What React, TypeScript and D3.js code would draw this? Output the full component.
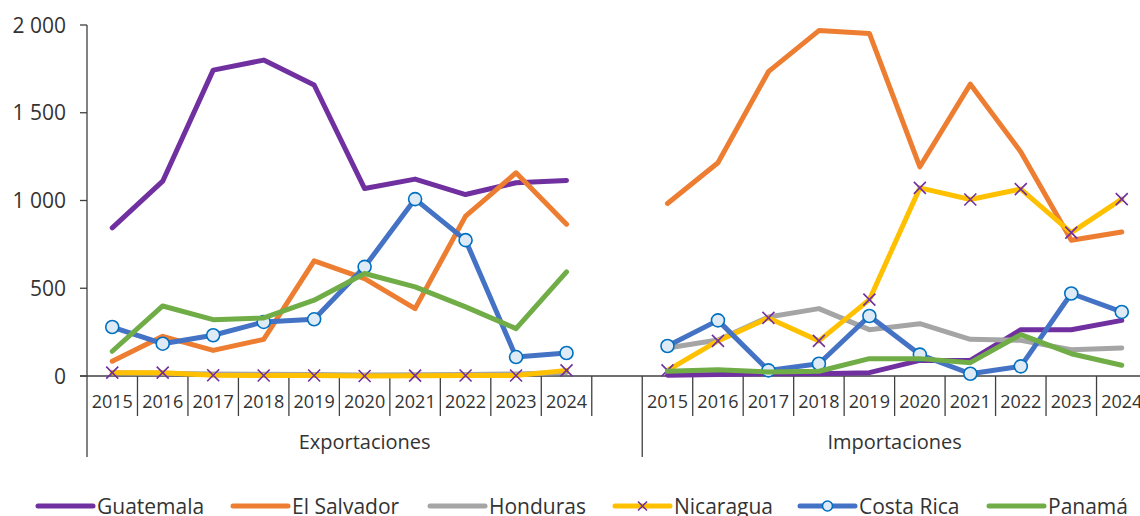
import { useMemo } from "react";
import * as d3 from "d3";

const years = ["2015", "2016", "2017", "2018", "2019", "2020", "2021", "2022", "2023", "2024"];
const groups = ["Exportaciones", "Importaciones"];
const yTicks = [0, 500, 1000, 1500, 2000];

// values (millions), exports then imports
const guatemalaExp = [844, 1110, 1743, 1800, 1658, 1068, 1122, 1034, 1101, 1114];
const guatemalaImp = [4, 8, 13, 13, 19, 89, 89, 264, 264, 317];
const elSalvadorExp = [84, 226, 146, 209, 656, 555, 384, 911, 1158, 865];
const elSalvadorImp = [983, 1215, 1734, 1968, 1952, 1192, 1663, 1277, 774, 821];
const hondurasExp = [18, 15, 12, 10, 8, 5, 7, 9, 12, 20];
const hondurasImp = [160, 205, 336, 384, 264, 298, 209, 203, 150, 160];
const nicaraguaExp = [19, 19, 4, 3, 3, 0, 2, 3, 3, 32];
const nicaraguaImp = [32, 200, 331, 200, 435, 1072, 1006, 1065, 817, 1008];
const costaRicaExp = [279, 184, 232, 308, 323, 622, 1008, 774, 108, 131];
const costaRicaImp = [171, 317, 32, 70, 342, 122, 13, 55, 470, 365];
const panamaExp = [141, 399, 321, 331, 432, 584, 508, 394, 270, 593];
const panamaImp = [27, 36, 23, 27, 99, 99, 76, 236, 127, 61];

const seriesNames = ["Guatemala", "El Salvador", "Honduras", "Nicaragua", "Costa Rica", "Panamá"];
const seriesColors = ["#7030A0", "#ED7D31", "#A5A5A5", "#FFC000", "#4472C4", "#70AD47"];
const seriesMarkers = ["none", "none", "none", "x", "circle", "none"];
const seriesExp = [guatemalaExp, elSalvadorExp, hondurasExp, nicaraguaExp, costaRicaExp, panamaExp];
const seriesImp = [guatemalaImp, elSalvadorImp, hondurasImp, nicaraguaImp, costaRicaImp, panamaImp];

const legendX = [38, 233, 430, 615, 800, 989];

const W = 1140;
const H = 516;
const FONT = "'Open Sans', sans-serif";
const AXIS = "#404040";
const TEXT = "#333333";

export default function App() {
  // one band per category; the blank slot closes the Exportaciones group
  const cats = useMemo(
    () => [...years.map((y) => "E" + y), "E-gap", ...years.map((y) => "I" + y)],
    []
  );
  const x = d3.scaleBand<string>().domain(cats).range([87, 1147]).paddingInner(0).paddingOuter(0);
  const y = d3.scaleLinear().domain([0, 2000]).range([376, 25]);
  const fmt = d3.formatLocale({ thousands: " ", grouping: [3], decimal: ",", currency: ["", ""] }).format(",");

  const line = d3
    .line<[string, number]>()
    .x((d) => (x(d[0]) ?? 0) + x.bandwidth() / 2)
    .y((d) => y(d[1]));

  const bw = x.bandwidth();
  const boundaries = d3.range(cats.length + 1).map((i) => 87 + i * bw);

  const groupSpans = [
    [x("E2015") ?? 0, (x("E-gap") ?? 0) + bw],
    [x("I2015") ?? 0, (x("I2024") ?? 0) + bw],
  ];

  const drawMarker = (kind: string, cx: number, cy: number, key: string, s = 6) => {
    if (kind === "x") {
      return (
        <path
          key={key}
          d={`M${cx - s},${cy - s}L${cx + s},${cy + s}M${cx - s},${cy + s}L${cx + s},${cy - s}`}
          stroke="#7030A0"
          strokeWidth={1.6}
          fill="none"
        />
      );
    }
    if (kind === "circle") {
      return <circle key={key} cx={cx} cy={cy} r={s + 0.5} fill="#DEEBF7" stroke="#0070C0" strokeWidth={1.6} />;
    }
    return null;
  };

  return (
    <svg
      width={W}
      height={H}
      style={{ position: "absolute", left: 0, top: 0, background: "#fff" }}
      fontFamily={FONT}
    >
      {/* y axis */}
      <line x1={87} x2={87} y1={y(2000)} y2={376} stroke={AXIS} strokeWidth={1.3} />
      {yTicks.map((t) => (
        <g key={t}>
          <line x1={80} x2={87} y1={y(t)} y2={y(t)} stroke={AXIS} strokeWidth={1.3} />
          <text x={66} y={y(t)} dy="0.36em" textAnchor="end" fontSize={21} fill={TEXT}>
            {fmt(t)}
          </text>
        </g>
      ))}

      {/* category axis */}
      <line x1={80} x2={W} y1={376} y2={376} stroke={AXIS} strokeWidth={1.3} />
      {boundaries.map((bx, i) => {
        const long = i === 0 || i === 11 || i === cats.length;
        return (
          <line key={i} x1={bx} x2={bx} y1={376} y2={long ? 457 : 416} stroke={AXIS} strokeWidth={1.3} />
        );
      })}
      {cats.map((c) =>
        c === "E-gap" ? null : (
          <text
            key={c}
            x={(x(c) ?? 0) + bw / 2}
            y={408}
            textAnchor="middle"
            fontSize={18}
            fill={TEXT}
          >
            {c.slice(1)}
          </text>
        )
      )}
      {groups.map((g, i) => (
        <text
          key={g}
          x={(groupSpans[i][0] + groupSpans[i][1]) / 2}
          y={449}
          textAnchor="middle"
          fontSize={20}
          fill={TEXT}
        >
          {g}
        </text>
      ))}

      {/* series */}
      {seriesNames.map((name, si) => {
        const expPts: [string, number][] = years.map((yr, i) => ["E" + yr, seriesExp[si][i]]);
        const impPts: [string, number][] = years.map((yr, i) => ["I" + yr, seriesImp[si][i]]);
        return (
          <g key={name}>
            {[expPts, impPts].map((pts, k) => (
              <path
                key={k}
                d={line(pts) ?? ""}
                fill="none"
                stroke={seriesColors[si]}
                strokeWidth={5}
                strokeLinejoin="round"
                strokeLinecap="round"
              />
            ))}
            {[...expPts, ...impPts].map((p) =>
              drawMarker(seriesMarkers[si], (x(p[0]) ?? 0) + bw / 2, y(p[1]), name + p[0])
            )}
          </g>
        );
      })}

      {/* legend */}
      {seriesNames.map((name, si) => {
        const lx = legendX[si];
        const ly = 506;
        return (
          <g key={"lg" + name}>
            <line
              x1={lx}
              x2={lx + 55}
              y1={ly}
              y2={ly}
              stroke={seriesColors[si]}
              strokeWidth={5}
              strokeLinecap="round"
            />
            {drawMarker(seriesMarkers[si], lx + 27.5, ly, "lm" + name, 4.5)}
            <text x={lx + 59} y={514} fontSize={21} fill={TEXT}>
              {name}
            </text>
          </g>
        );
      })}
    </svg>
  );
}
